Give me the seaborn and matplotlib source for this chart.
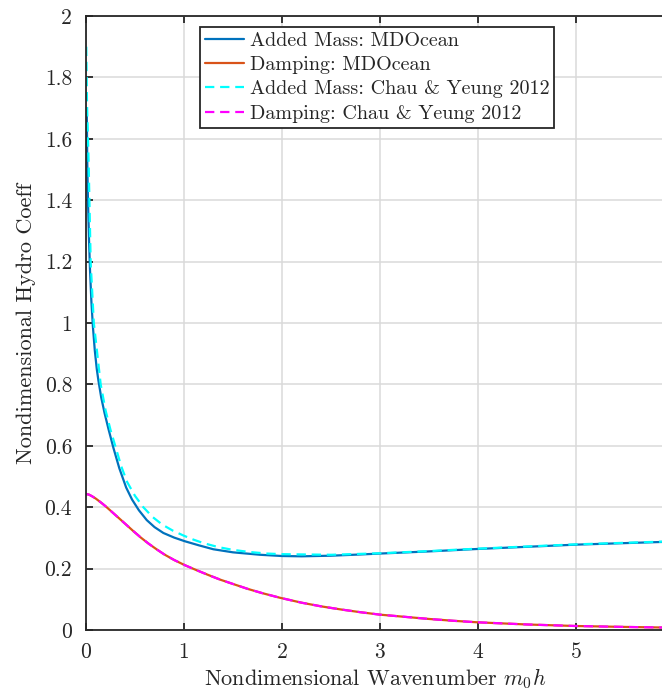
import matplotlib
matplotlib.use("Agg")
import matplotlib.pyplot as plt
import seaborn as sns
import pandas as pd
from matplotlib.ticker import FixedLocator, FixedFormatter

# ---- data ----
am_md_x = [0.008, 0.013, 0.02, 0.03, 0.04, 0.055, 0.07, 0.09, 0.11, 0.126, 0.155,
           0.19, 0.23, 0.28, 0.34, 0.41, 0.47, 0.54, 0.62, 0.70, 0.79, 0.9, 1.01,
           1.15, 1.3, 1.5, 1.78, 2.0, 2.2, 2.5, 2.8, 3.0, 3.5, 4.0, 4.5, 5.0,
           5.5, 5.9]
am_md_y = [1.70, 1.52, 1.40, 1.28, 1.18, 1.07, 0.99, 0.91, 0.85, 0.814, 0.758,
           0.706, 0.654, 0.593, 0.527, 0.464, 0.425, 0.390, 0.358, 0.335, 0.316,
           0.301, 0.289, 0.276, 0.263, 0.253, 0.245, 0.241, 0.240, 0.242, 0.246,
           0.249, 0.256, 0.264, 0.271, 0.278, 0.283, 0.287]

damp_md_x = [0.0, 0.03, 0.06, 0.1, 0.15, 0.2, 0.26, 0.33, 0.4, 0.48, 0.56, 0.64,
             0.72, 0.8, 0.9, 1.01, 1.12, 1.25, 1.37, 1.5, 1.65, 1.8, 1.98, 2.2,
             2.4, 2.6, 2.8, 3.0, 3.25, 3.5, 3.75, 4.0, 4.5, 5.0, 5.5, 5.9]
damp_md_y = [0.443, 0.441, 0.436, 0.428, 0.416, 0.403, 0.386, 0.366, 0.346,
             0.323, 0.301, 0.281, 0.263, 0.246, 0.228, 0.211, 0.196, 0.179,
             0.164, 0.150, 0.134, 0.120, 0.105, 0.089, 0.077, 0.067, 0.058,
             0.050, 0.043, 0.036, 0.030, 0.025, 0.018, 0.013, 0.010, 0.008]

am_cy_x = [0.003, 0.01, 0.027, 0.048, 0.08, 0.15, 0.2, 0.25, 0.3, 0.36, 0.42,
           0.5, 0.585, 0.68, 0.78, 0.89, 1.0, 1.1, 1.2, 1.35, 1.5, 1.67, 1.85,
           2.0, 2.5, 3.0, 3.5, 4.0, 4.5, 5.0, 5.5, 5.9]
am_cy_y = [1.90, 1.72, 1.52, 1.195, 1.0, 0.80, 0.715, 0.652, 0.598, 0.533,
           0.482, 0.437, 0.400, 0.368, 0.343, 0.323, 0.307, 0.294, 0.283, 0.270,
           0.261, 0.254, 0.249, 0.247, 0.245, 0.250, 0.257, 0.265, 0.272,
           0.279, 0.284, 0.288]

damp_cy_x = damp_md_x
damp_cy_y = damp_md_y

labels = ["Added Mass: MDOcean", "Damping: MDOcean",
          "Added Mass: Chau & Yeung 2012", "Damping: Chau & Yeung 2012"]
colors = ["#0072BD", "#D95319", "#00FFFF", "#FF00FF"]

x_ticks = [0, 1, 2, 3, 4, 5]
x_ticklabels = ["0", "1", "2", "3", "4", "5"]
y_ticks = [0, 0.2, 0.4, 0.6, 0.8, 1.0, 1.2, 1.4, 1.6, 1.8, 2.0]
y_ticklabels = ["0", "0.2", "0.4", "0.6", "0.8", "1", "1.2", "1.4", "1.6", "1.8", "2"]

# ---- style ----
sns.set_theme(style="ticks")
plt.rcParams["font.family"] = ["cmr10", "DejaVu Serif"]
plt.rcParams["mathtext.fontset"] = "cm"
plt.rcParams["axes.unicode_minus"] = False
plt.rcParams["axes.formatter.use_mathtext"] = True

fig = plt.figure(figsize=(6.62, 6.94), dpi=100)
ax = fig.add_axes([86 / 662, 64 / 694, 578 / 662, 614 / 694])

series = [(am_md_x, am_md_y), (damp_md_x, damp_md_y),
          (am_cy_x, am_cy_y), (damp_cy_x, damp_cy_y)]
for (xs, ys), lab, col in zip(series, labels, colors):
    df = pd.DataFrame({"x": xs, "y": ys})
    sns.lineplot(data=df, x="x", y="y", color=col, lw=1.6, label=lab, ax=ax,
                 estimator=None, sort=True)

for ln in ax.lines[:4]:
    ln.set_solid_joinstyle("round")
    ln.set_dash_joinstyle("round")
for ln in ax.lines[2:4]:
    ln.set_linestyle((0, (4.2, 2.6)))

ax.set_xlim(0, 5.9)
ax.set_ylim(0, 2)
ax.xaxis.set_major_locator(FixedLocator(x_ticks))
ax.xaxis.set_major_formatter(FixedFormatter(x_ticklabels))
ax.yaxis.set_major_locator(FixedLocator(y_ticks))
ax.yaxis.set_major_formatter(FixedFormatter(y_ticklabels))

ax.grid(True, color="#dadada", lw=1.1)
ax.set_axisbelow(True)
for s in ax.spines.values():
    s.set_color("#262626")
    s.set_linewidth(1.3)
ax.spines["right"].set_visible(False)
ax.tick_params(direction="in", length=5, width=1.3, colors="#262626",
               labelsize=15.5, top=True, right=False)
ax.tick_params(axis="y", pad=10)
ax.tick_params(axis="x", pad=9)
for t in ax.get_xticklabels() + ax.get_yticklabels():
    t.set_color("#262626")

ax.set_xlabel("Nondimensional Wavenumber $m_0h$", fontsize=16, color="#262626",
              labelpad=3)
ax.set_ylabel("Nondimensional Hydro Coeff", fontsize=16, color="#262626",
              labelpad=6)

leg = ax.legend(loc="upper left", bbox_to_anchor=(0.198, 0.982), fontsize=14.5,
                frameon=True, fancybox=False, framealpha=1, edgecolor="#262626",
                labelspacing=0.3, handlelength=1.9, handletextpad=0.3,
                borderpad=0.25, borderaxespad=0)
leg.get_frame().set_linewidth(1.3)

fig.savefig("out.png", dpi=100)
